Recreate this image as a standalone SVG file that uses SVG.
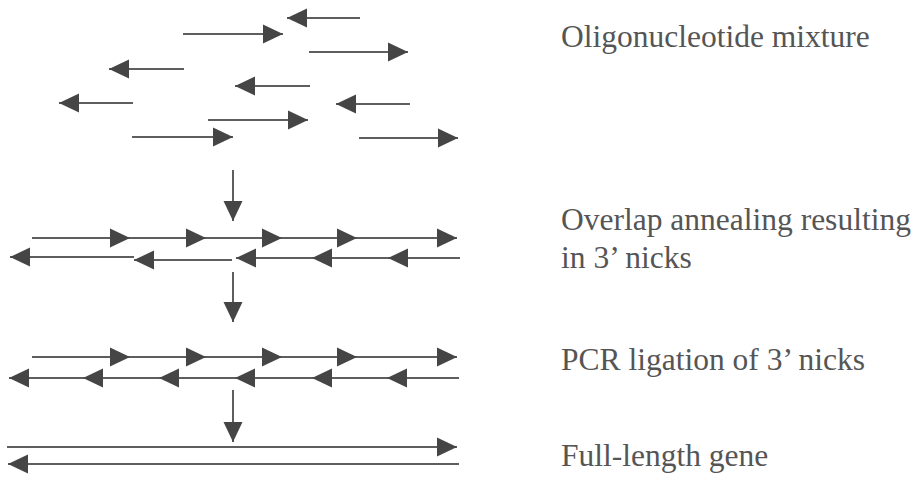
<svg xmlns="http://www.w3.org/2000/svg" width="917" height="482" viewBox="0 0 917 482">
<style>
.s{stroke:#5e5e5e;stroke-width:2;fill:none;marker-end:url(#ah)}
.t{font-family:"Liberation Serif","Times New Roman",serif;font-size:31.5px;fill:#555}
</style>
<defs>
<marker id="ah" markerUnits="userSpaceOnUse" markerWidth="20" markerHeight="20" refX="20" refY="10" orient="auto" viewBox="0 0 20 20">
<path d="M0,0.5 L20,10 L0,19.5 z" fill="#454545"/>
</marker>
</defs>
<rect width="917" height="482" fill="#fff"/>
<g id="oligos">
<line class="s" x1="360" y1="18" x2="287" y2="18"/>
<line class="s" x1="183" y1="34" x2="283" y2="34"/>
<line class="s" x1="309" y1="52" x2="408" y2="52"/>
<line class="s" x1="184" y1="69" x2="109" y2="69"/>
<line class="s" x1="310" y1="86" x2="235" y2="86"/>
<line class="s" x1="133" y1="103" x2="59" y2="103"/>
<line class="s" x1="410" y1="104" x2="336" y2="104"/>
<line class="s" x1="208" y1="120" x2="308" y2="120"/>
<line class="s" x1="132" y1="137" x2="233" y2="137"/>
<line class="s" x1="359" y1="138" x2="458" y2="138"/>
</g>
<g id="annealed">
<line class="s" x1="32" y1="238" x2="130" y2="238"/>
<line class="s" x1="130" y1="238" x2="206" y2="238"/>
<line class="s" x1="206" y1="238" x2="282" y2="238"/>
<line class="s" x1="282" y1="238" x2="357" y2="238"/>
<line class="s" x1="357" y1="238" x2="457" y2="238"/>
<line class="s" x1="460" y1="258" x2="388" y2="258"/>
<line class="s" x1="388" y1="258" x2="312" y2="258"/>
<line class="s" x1="312" y1="258" x2="236" y2="258"/>
<line class="s" x1="232" y1="260" x2="134" y2="260"/>
<line class="s" x1="134" y1="257" x2="10" y2="257"/>
</g>
<g id="ligated">
<line class="s" x1="32" y1="357" x2="130" y2="357"/>
<line class="s" x1="130" y1="357" x2="206" y2="357"/>
<line class="s" x1="206" y1="357" x2="282" y2="357"/>
<line class="s" x1="282" y1="357" x2="357" y2="357"/>
<line class="s" x1="357" y1="357" x2="457" y2="357"/>
<line class="s" x1="459" y1="378" x2="387" y2="378"/>
<line class="s" x1="387" y1="378" x2="312" y2="378"/>
<line class="s" x1="312" y1="378" x2="235" y2="378"/>
<line class="s" x1="235" y1="378" x2="159" y2="378"/>
<line class="s" x1="159" y1="378" x2="83" y2="378"/>
<line class="s" x1="83" y1="378" x2="9" y2="378"/>
</g>
<g id="gene">
<line class="s" x1="7" y1="447" x2="457" y2="447"/>
<line class="s" x1="459" y1="464" x2="8" y2="464"/>
</g>
<g id="connectors">
<line class="s" x1="233" y1="170" x2="233" y2="221"/>
<line class="s" x1="233" y1="272" x2="233" y2="322"/>
<line class="s" x1="233" y1="390" x2="233" y2="442"/>
</g>
<g id="label-oligo"><text class="t" x="561" y="47">Oligonucleotide mixture</text></g>
<g id="label-anneal"><text class="t" x="561" y="230">Overlap annealing resulting</text><text class="t" x="561" y="268">in 3’ nicks</text></g>
<g id="label-pcr"><text class="t" x="561" y="370">PCR ligation of 3’ nicks</text></g>
<g id="label-gene"><text class="t" x="561" y="466">Full-length gene</text></g>
</svg>
